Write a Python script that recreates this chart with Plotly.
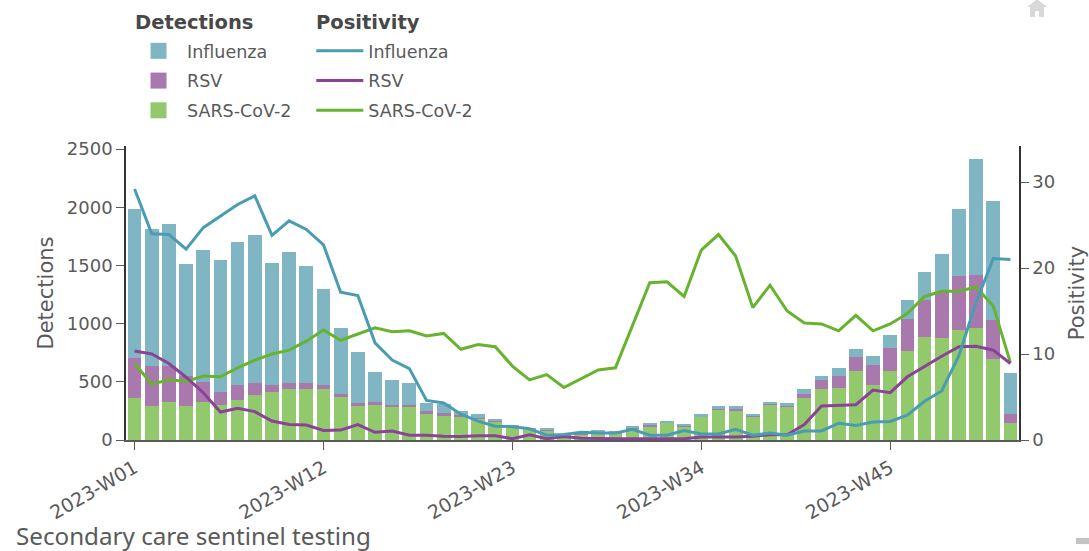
import plotly.graph_objects as go

weeks = [f"2023-W{i:02d}" for i in range(1, 53)]
tick_weeks = ["2023-W01", "2023-W12", "2023-W23", "2023-W34", "2023-W45"]

det_flu = [1285,1181,1222,965,1130,1141,1224,1274,1052,1127,1009,825,570,441,254,216,184,72,72,36,29,20,15,12,20,9,9,15,10,9,14,8,8,17,16,18,12,11,14,40,37,69,66,78,106,162,239,328,582,994,1023,357]
det_rsv = [346,346,305,260,172,104,130,107,64,55,55,40,23,23,23,20,12,20,26,16,9,8,8,6,6,5,5,5,4,5,12,3,4,6,7,22,11,12,9,38,81,103,118,175,196,276,317,401,464,453,332,78]
det_sars = [357,288,329,288,329,305,343,383,409,435,435,435,372,291,305,280,291,225,210,199,184,156,107,86,78,35,49,69,58,101,118,147,118,199,265,248,199,305,291,357,435,450,597,473,597,767,888,873,942,965,700,144]

pos_flu = [29.2,24.0,23.9,22.2,24.7,26.0,27.4,28.4,23.8,25.5,24.5,22.7,17.2,16.8,11.3,9.3,8.3,4.6,4.3,3.0,2.2,1.6,1.55,1.3,0.55,0.65,0.9,0.8,0.8,1.25,0.55,0.55,1.1,0.7,0.7,1.25,0.55,0.8,0.55,1.05,1.05,1.95,1.7,2.1,2.15,2.9,4.5,5.7,9.8,16.0,21.1,21.0]
pos_rsv = [10.35,10.0,8.9,7.3,5.5,3.25,3.7,3.3,2.2,1.8,1.75,1.1,1.15,1.8,0.9,1.05,0.55,0.55,0.45,0.4,0.5,0.5,0.15,0.6,0.15,0.4,0.2,0.15,0.15,0.15,0.15,0.15,0.15,0.35,0.35,0.35,0.45,0.6,0.6,1.8,3.95,4.0,4.1,5.8,5.5,7.35,8.6,9.75,10.85,10.9,10.45,8.9]
pos_sars = [8.9,6.5,7.0,6.8,7.45,7.35,8.4,9.3,10.0,10.45,11.5,12.8,11.6,12.3,13.05,12.6,12.7,12.1,12.4,10.55,11.1,10.85,8.6,7.0,7.6,6.1,7.15,8.15,8.4,13.4,18.3,18.4,16.7,22.1,23.9,21.4,15.4,18.0,15.0,13.6,13.5,12.7,14.5,12.7,13.5,14.7,16.7,17.3,17.3,17.8,15.6,9.0]

BAR = {"Influenza": "#80b6c4", "RSV": "#a978ad", "SARS-CoV-2": "#93c96d"}
LINE = {"Influenza": "#4a9cb2", "RSV": "#8a4396", "SARS-CoV-2": "#66b32e"}
RANK = {"Influenza": 1, "RSV": 2, "SARS-CoV-2": 3}
GREY = "#5a5a5a"
FONT = "DejaVu Sans"

fig = go.Figure()
for name, vals in [("SARS-CoV-2", det_sars), ("RSV", det_rsv), ("Influenza", det_flu)]:
    fig.add_bar(x=weeks, y=vals, name=name, marker=dict(color=BAR[name], line=dict(width=0)),
                showlegend=False, yaxis="y")
for name in ["Influenza", "RSV", "SARS-CoV-2"]:
    fig.add_scatter(x=weeks, y=[None] * len(weeks), name=name, mode="markers",
                    marker=dict(symbol="square", size=18, color=BAR[name]),
                    legend="legend", legendgroup="d" + name, legendrank=RANK[name], showlegend=True)
for name, vals in [("SARS-CoV-2", pos_sars), ("RSV", pos_rsv), ("Influenza", pos_flu)]:
    fig.add_scatter(x=weeks, y=vals, name=name, mode="lines", yaxis="y2",
                    line=dict(color=LINE[name], width=3),
                    legend="legend2", legendgroup="p" + name, legendrank=RANK[name])

legend_common = dict(
    yanchor="top", xanchor="left", y=1.3845, tracegroupgap=4,
    itemwidth=47, itemclick=False, itemdoubleclick=False, bgcolor="rgba(0,0,0,0)",
    font=dict(family=FONT, size=17.5, color=GREY),
)
heading = dict(xref="paper", yref="paper", y=1.4185, xanchor="left", yanchor="middle", showarrow=False,
               font=dict(family=FONT, size=19.5, color="#484848"))
fig.update_layout(
    width=1089, height=551, barmode="stack", bargap=0.2,
    margin=dict(l=126, r=70, t=146, b=111, autoexpand=False),
    paper_bgcolor="white", plot_bgcolor="white",
    font=dict(family=FONT, color=GREY),
    title=dict(text="Secondary care sentinel testing", x=16 / 1089, xanchor="left", y=0.027, yanchor="middle",
               font=dict(family="Noto Sans", size=24.2, color=GREY)),
    legend=dict(x=0.0045, **legend_common),
    legend2=dict(x=0.2075, **legend_common),
    annotations=[
        dict(text="<b>Detections</b>", x=0.0078, **heading),
        dict(text="<b>Positivity</b>", x=0.2105, **heading),
    ],
    xaxis=dict(type="category", categoryorder="array", categoryarray=weeks, range=[-0.5, 51.5],
               tickmode="array", tickvals=tick_weeks, ticktext=tick_weeks, tickangle=-30,
               ticks="outside", ticklen=8, tickcolor=GREY, showline=True, linecolor=GREY, linewidth=1.5,
               showgrid=False, tickfont=dict(family=FONT, size=19, color=GREY)),
    yaxis=dict(range=[0, 2526], tickvals=[0, 500, 1000, 1500, 2000, 2500], ticks="outside", ticklen=8,
               tickcolor=GREY, showline=True, linecolor="#333333", linewidth=1.5, showgrid=False, zeroline=False,
               tickfont=dict(family=FONT, size=18, color=GREY),
               title=dict(text="Detections", standoff=7, font=dict(family=FONT, size=21, color=GREY))),
    yaxis2=dict(overlaying="y", side="right", range=[0, 34.2], tickvals=[0, 10, 20, 30], ticks="outside", ticklen=8,
                tickcolor=GREY, showline=True, linecolor="#333333", linewidth=1.5, showgrid=False, zeroline=False,
                tickfont=dict(family=FONT, size=18, color=GREY),
                title=dict(text="Positivity", standoff=18, font=dict(family=FONT, size=21, color=GREY))),
    shapes=[
        dict(type="path", xref="paper", yref="paper", xsizemode="pixel", ysizemode="pixel",
             xanchor=1.0202, yanchor=1.469, line=dict(width=0), fillcolor="#d8d8d8",
             path="M -10 1 L 0 9 L 10 1 L 7 1 L 7 -9 L 2 -9 L 2 -3 L -2 -3 L -2 -9 L -7 -9 L -7 1 Z"),
        dict(type="rect", xref="paper", yref="paper", x0=1.0638, x1=1.08, y0=-0.354, y1=-0.333,
             line=dict(width=0), fillcolor="#c4c4c4"),
    ],
)
fig.write_html("out.html", config={"displayModeBar": False}, post_script="document.body.style.margin='0';")
